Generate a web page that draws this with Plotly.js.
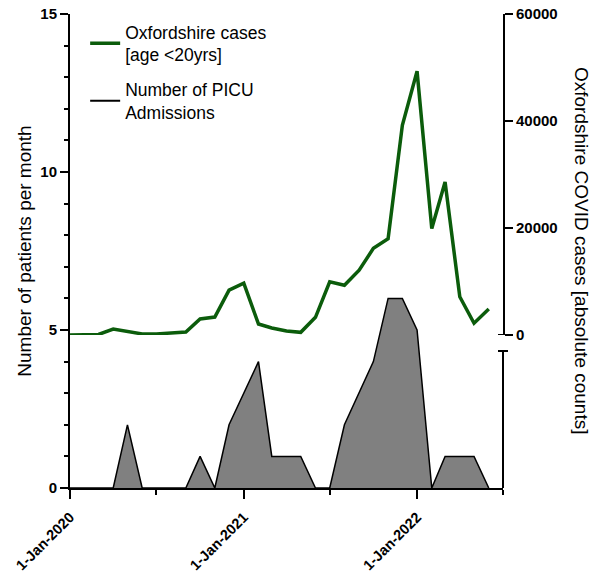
<!DOCTYPE html>
<html><head><meta charset="utf-8">
<script src="https://cdn.plot.ly/plotly-3.0.1.min.js"></script>
<style>html,body{margin:0;padding:0;background:#fff;} #chart{width:604px;height:575px;}</style>
</head><body><div id="chart"></div>
<script>
const months = [
  '2020-01-01','2020-02-01','2020-03-01','2020-04-01','2020-05-01','2020-06-01',
  '2020-07-01','2020-08-01','2020-09-01','2020-10-01','2020-11-01','2020-12-01',
  '2021-01-01','2021-02-01','2021-03-01','2021-04-01','2021-05-01','2021-06-01',
  '2021-07-01','2021-08-01','2021-09-01','2021-10-01','2021-11-01','2021-12-01',
  '2022-01-01','2022-02-01','2022-03-01','2022-04-01','2022-05-01','2022-06-01'
];
const picuAdmissions = [
  0,0,0,0,2,0,0,0,0,1,0,2,
  3,4,1,1,1,0,0,2,3,4,6,6,
  5,0,1,1,1,0
];
const oxfordshireCases = [
  0,0,100,1100,600,200,200,300,550,3000,3350,8400,
  9700,2050,1300,750,500,3300,9950,9300,12100,16200,18000,39200,
  49300,19900,28600,7150,2200,4850
];
const casesName = 'Oxfordshire cases<br>[age <20yrs]';
const picuName = 'Number of PICU<br>Admissions';
const leftTitle = 'Number of patients per month';
const rightTitle = 'Oxfordshire COVID cases [absolute counts]';

const FONT = 'Liberation Sans, Arial, sans-serif';
const traces = [
  {x: months, y: picuAdmissions, type: 'scatter', mode: 'lines', fill: 'tozeroy',
   fillcolor: '#808080', line: {color: '#000', width: 1.5}, showlegend: false,
   xaxis: 'x', yaxis: 'y', hoverinfo: 'skip', legendgroup: 'b'},
  {x: months, y: oxfordshireCases, type: 'scatter', mode: 'lines', name: casesName,
   line: {color: '#0b5c0b', width: 3.5}, xaxis: 'x', yaxis: 'y2', legendrank: 1, legendgroup: 'a'},
  {x: [null], y: [null], type: 'scatter', mode: 'lines', name: picuName,
   line: {color: '#000', width: 2}, xaxis: 'x', yaxis: 'y', legendrank: 2, legendgroup: 'b'}
];
const breakY = (488 - 351) / 474;
const layout = {
  width: 604, height: 575,
  margin: {l: 70, r: 101, t: 14, b: 87},
  paper_bgcolor: '#fff', plot_bgcolor: 'rgba(0,0,0,0)',
  font: {family: FONT, color: '#000'},
  showlegend: true,
  legend: {x: 0.035, y: 1, xanchor: 'left', yanchor: 'top',
           bgcolor: 'rgba(0,0,0,0)', font: {size: 17.5, family: FONT, color: '#000'},
           traceorder: 'grouped', tracegroupgap: 9, itemwidth: 30},
  xaxis: {type: 'date', range: ['2020-01-01', '2022-07-01'], tick0: '2020-01-01', dtick: 'M12',
          tickformat: '%-d-%b-%Y', tickangle: -45, ticks: 'outside', ticklen: 9, tickwidth: 2,
          tickcolor: '#000', showline: true, linewidth: 2, linecolor: '#000', showgrid: false,
          zeroline: false, tickfont: {size: 14.5, weight: 700, family: FONT}, ticklabelstandoff: 4,
          minor: {tick0: '2020-01-01', dtick: 'M6', ticks: 'outside', ticklen: 5, tickwidth: 2,
                  tickcolor: '#000', showgrid: false},
          anchor: 'y', automargin: false},
  yaxis: {range: [0, 15], dtick: 5, tick0: 0, ticks: 'outside', ticklen: 8, tickwidth: 2,
          tickcolor: '#000', showline: true, linewidth: 2, linecolor: '#000', showgrid: false,
          zeroline: false, tickfont: {size: 15, weight: 700, family: FONT},
          minor: {dtick: 1, ticks: 'outside', ticklen: 4, tickwidth: 2, tickcolor: '#000', showgrid: false},
          title: {text: leftTitle, font: {size: 19, family: FONT}, standoff: 4},
          anchor: 'x', domain: [0, 1], automargin: false},
  yaxis2: {range: [0, 60000], dtick: 20000, tick0: 0, tickformat: 'd', side: 'right', anchor: 'x',
           domain: [(488 - 335) / 474, 1], ticks: 'outside', ticklen: 8, tickwidth: 2,
           tickcolor: '#000', showline: true, linewidth: 2, linecolor: '#000', showgrid: false,
           zeroline: false, tickfont: {size: 15, weight: 700, family: FONT}, automargin: false},
  annotations: [
    {text: rightTitle, textangle: 90, xref: 'paper', yref: 'paper', x: 1, y: 0.5,
     xshift: 79, xanchor: 'center', yanchor: 'middle', showarrow: false,
     font: {size: 19, family: FONT, color: '#000'}}
  ],
  shapes: [
    {type: 'line', xref: 'paper', yref: 'paper', x0: 1, x1: 1, y0: 0, y1: breakY,
     line: {color: '#000', width: 2}},
    {type: 'line', xref: 'paper', yref: 'paper', xsizemode: 'pixel', xanchor: 1,
     x0: -5, x1: 5, y0: breakY, y1: breakY, line: {color: '#000', width: 2}},
    {type: 'line', xref: 'paper', yref: 'y2', xsizemode: 'pixel', xanchor: 1,
     x0: -5, x1: 0, y0: 0, y1: 0, line: {color: '#000', width: 2}}
  ]
};
Plotly.newPlot('chart', traces, layout, {displayModeBar: false, staticPlot: true});
</script>
</body></html>
